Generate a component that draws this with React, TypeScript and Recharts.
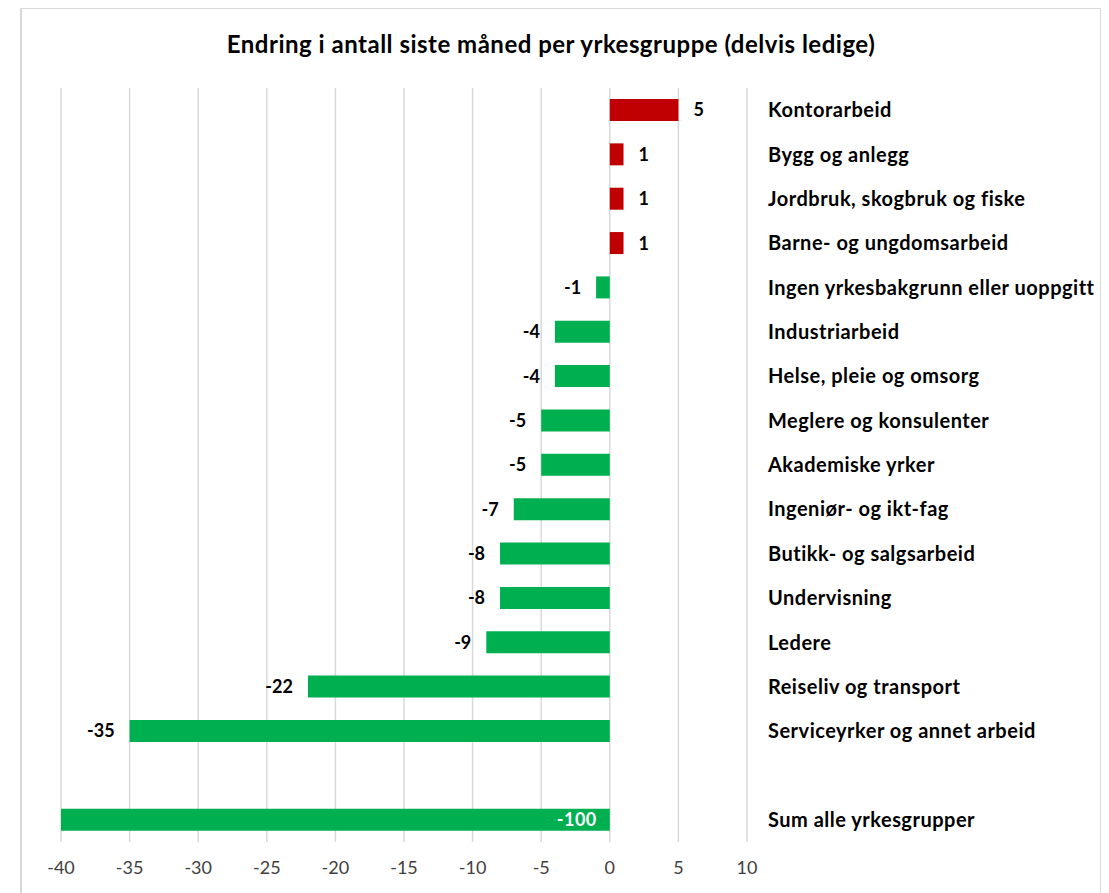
import React from "react";
import {
  BarChart,
  Bar,
  Cell,
  CartesianGrid,
  XAxis,
  YAxis,
  LabelList,
} from "recharts";

const title = "Endring i antall siste måned per yrkesgruppe (delvis ledige)";

const groups = [
  "Kontorarbeid",
  "Bygg og anlegg",
  "Jordbruk, skogbruk og fiske",
  "Barne- og ungdomsarbeid",
  "Ingen yrkesbakgrunn eller uoppgitt",
  "Industriarbeid",
  "Helse, pleie og omsorg",
  "Meglere og konsulenter",
  "Akademiske yrker",
  "Ingeniør- og ikt-fag",
  "Butikk- og salgsarbeid",
  "Undervisning",
  "Ledere",
  "Reiseliv og transport",
  "Serviceyrker og annet arbeid",
  "",
  "Sum alle yrkesgrupper",
];

const changes: (number | null)[] = [
  5, 1, 1, 1, -1, -4, -4, -5, -5, -7, -8, -8, -9, -22, -35, null, -100,
];

const xTicks = [-40, -35, -30, -25, -20, -15, -10, -5, 0, 5, 10];

const data = groups.map((name, i) => ({ name, value: changes[i] }));

const FONT = "Lato, 'Noto Sans', sans-serif";
const RED = "#C00000";
const GREEN = "#00B050";
const MIN_X = -40;

const ValueLabel = (props: any) => {
  const { x, y, width, height, value } = props;
  if (value === null || value === undefined) return null;
  const left = Math.min(x, x + width);
  const right = Math.max(x, x + width);
  const cy = y + height / 2;
  if (value < MIN_X) {
    return (
      <text x={right - 13} y={cy} dy="0.36em" textAnchor="end" fill="#fff"
        fontFamily={FONT} fontSize={18} fontWeight={700} letterSpacing={0.5}>
        {value}
      </text>
    );
  }
  if (value >= 0) {
    return (
      <text x={right + 15} y={cy} dy="0.36em" textAnchor="start" fill="#000"
        fontFamily={FONT} fontSize={18} fontWeight={700}>
        {value}
      </text>
    );
  }
  return (
    <text x={left - 15} y={cy} dy="0.36em" textAnchor="end" fill="#000"
      fontFamily={FONT} fontSize={18} fontWeight={700}>
      {value}
    </text>
  );
};

const App = () => {
  return (
    <div style={{ position: "relative", marginLeft: 12, marginTop: -1, width: 1082, height: 900 }}>
      <div
        style={{
          position: "absolute",
          left: 0,
          top: 0,
          width: 1082,
          height: 900,
          boxSizing: "border-box",
          border: "2px solid #d9d9d9",
        }}
      />
      <div
        style={{
          position: "absolute",
          left: 0,
          top: 23,
          width: 1062,
          textAlign: "center",
          fontFamily: FONT,
          fontWeight: 700,
          fontSize: 24,
          letterSpacing: 0.5,
          lineHeight: "28px",
          color: "#000",
        }}
      >
        {title}
      </div>
      <div style={{ position: "absolute", left: 0, top: 0 }}>
        <BarChart
          width={1082}
          height={886}
          data={data}
          layout="vertical"
          margin={{ top: 81, right: 0, bottom: 0, left: 41 }}
        >
          <CartesianGrid horizontal={false} stroke="#d9d9d9" strokeWidth={1.5} />
          <XAxis
            type="number"
            domain={[-40, 10]}
            ticks={xTicks}
            allowDataOverflow
            axisLine={false}
            tickLine={false}
            height={51}
            tickMargin={13}
            tick={{ fontFamily: FONT, fontSize: 18, fill: "#404040" }}
          />
          <YAxis
            type="category"
            dataKey="name"
            orientation="right"
            width={355}
            axisLine={false}
            tickLine={false}
            tickSize={6}
            tickMargin={15}
            interval={0}
            tick={{
              fontFamily: FONT,
              fontSize: 20,
              fontWeight: 700,
              fill: "#000",
              textAnchor: "start",
              letterSpacing: 0.5,
            }}
          />
          <Bar dataKey="value" barSize={22} isAnimationActive={false}>
            {data.map((d, i) => (
              <Cell key={i} fill={(d.value ?? 0) >= 0 ? RED : GREEN} />
            ))}
            <LabelList dataKey="value" content={ValueLabel} />
          </Bar>
        </BarChart>
      </div>
    </div>
  );
};

export default App;
